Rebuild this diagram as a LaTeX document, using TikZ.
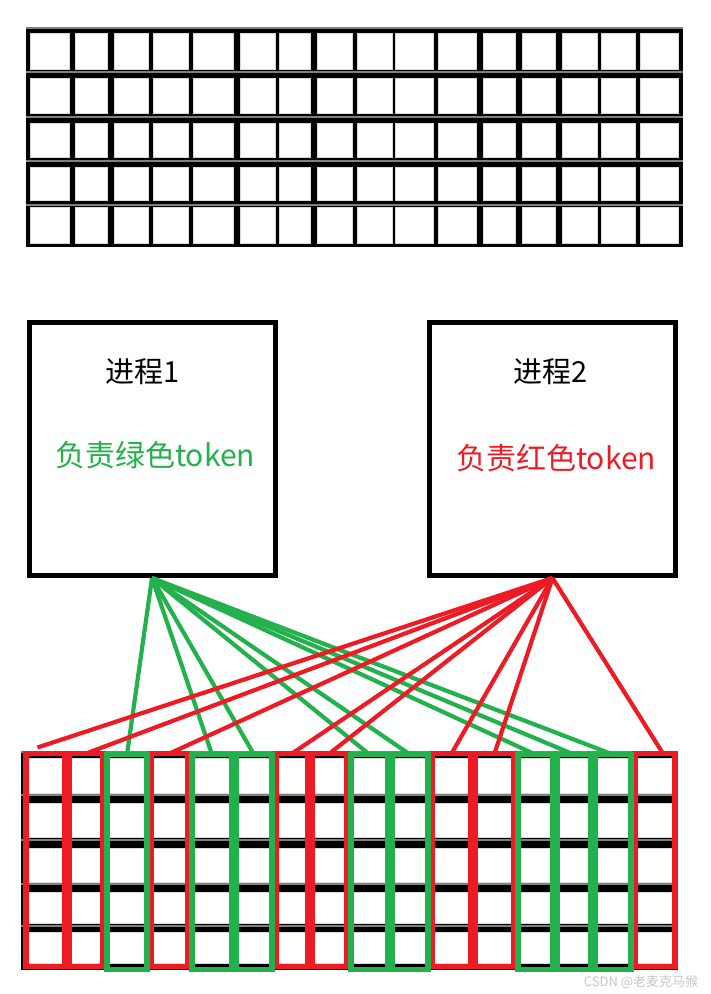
\documentclass[tikz,border=0pt]{standalone}
\usepackage{fontspec}
\setmainfont{Noto Sans CJK SC}
\definecolor{tokgreen}{RGB}{34,177,76}
\definecolor{tokred}{RGB}{237,28,36}
\tikzset{
  cell/.style={fill=white, draw=gray!30, line width=1pt},
  procbox/.style={draw, line width=5pt, minimum width=246pt, minimum height=253pt, inner sep=0pt},
  colbox/.style={rectangle, line width=5.5pt, inner sep=0pt, outer sep=0pt},
  greenlink/.style={tokgreen, line width=4.2pt},
  redlink/.style={tokred, line width=4.2pt},
  nametext/.style={font=\fontsize{29}{34}\selectfont, inner sep=0pt},
  dutytext/.style={font=\fontsize{30}{35}\selectfont, inner sep=0pt}
}
\begin{document}
\begin{tikzpicture}[x=1pt, y=-1pt]
    \useasboundingbox (0, 0) rectangle (711, 994);

    % Token grid (top)
    \fill[black] (26, 28) rectangle (683, 247);
    \foreach \yt/\yb in {33/69, 78/113, 123/157, 167/200, 207/243}
      \foreach \xl/\xr in {30/69, 75/107, 114/148, 153/188, 193/233, 240/275, 279/310, 317/352, 357/392, 395/433, 438/476, 483/515, 522/555, 562/597, 601/635, 640/678}
        \draw[cell] (\xl, \yt) rectangle (\xr, \yb);
    \foreach \y in {28, 72, 117, 161, 205}
      \draw[gray, line width=1.2pt] (26, \y) -- (683, \y);

    % Processes
    \node[procbox] (proc1) at (152, 449) {};
    \node[procbox] (proc2) at (552.5, 449) {};
    \node[nametext] (name1) at (143, 372) {进程1};
    \node[dutytext, tokgreen] (duty1) at (155, 455) {负责绿色token};
    \node[nametext] (name2) at (551, 372) {进程2};
    \node[dutytext, tokred] (duty2) at (556, 458) {负责红色token};

    % Token grid (bottom)
    \fill[black] (21, 751) rectangle (678, 970);
    \foreach \yt/\yb in {758/793, 803/837, 848/882, 892/923, 932/963}
      \foreach \xl/\xr in {24/67, 67/105, 105/149, 149/190, 190/234, 234/274, 274/310, 310/349, 349/390, 390/430, 430/473, 473/516, 516/555, 555/593, 593/633, 633/677}
        \draw[cell] (\xl+4, \yt) rectangle (\xr-4, \yb);
    \foreach \y in {752, 795, 840, 884, 926}
      \draw[gray, line width=1.2pt] (21, \y) -- (678, \y);

    % Columns handed to each process
    \foreach \i/\xl/\xr in {1/24/67, 2/67/105, 4/149/190, 7/274/310, 8/310/349, 11/430/473, 12/473/516, 16/633/677}
      \node[colbox, draw=tokred, minimum width=\xr-\xl-4, minimum height=213] (col\i) at ({(\xl+\xr)/2}, 860) {};
    \foreach \i/\xl/\xr in {3/105/149, 5/190/234, 6/234/274, 9/349/390, 10/390/430, 13/516/555, 14/555/593, 15/593/633}
      \node[colbox, draw=tokgreen, minimum width=\xr-\xl-4, minimum height=215] (col\i) at ({(\xl+\xr)/2}, 862) {};

    % Links
    \foreach \i in {3, 5, 6, 9, 10, 13, 14, 15}
      \draw[greenlink] (proc1.south) -- (col\i.north);
    \draw[redlink] (proc2.south) -- ([xshift=-8pt, yshift=6pt]col1.north);
    \foreach \i in {2, 4, 7, 8, 11, 12}
      \draw[redlink] (proc2.south) -- (col\i.north);
    \draw[redlink] (proc2.south) -- ([xshift=8pt]col16.north);

    % Watermark
    \node[gray!45, font=\fontsize{13}{15}\selectfont, inner sep=0pt] (mark) at (641, 982) {CSDN @老麦克马猴};
  \end{tikzpicture}
\end{document}
